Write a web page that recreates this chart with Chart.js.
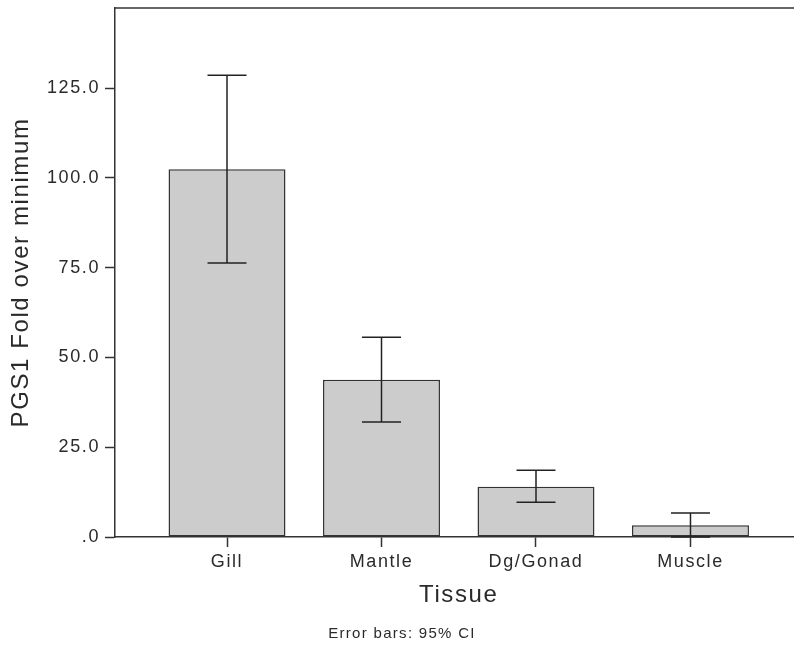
<!DOCTYPE html>
<html>
<head>
<meta charset="utf-8">
<script src="https://cdn.jsdelivr.net/npm/chart.js@4/dist/chart.umd.min.js"></script>
<style>
  html, body { margin: 0; padding: 0; background: #fff; overflow: hidden; }
  #wrap { width: 794px; height: 652px; overflow: hidden; }
  #box { width: 810px; height: 652px; }
</style>
</head>
<body>
<div id="wrap"><div id="box"><canvas id="myChart"></canvas></div></div>
<script>
document.addEventListener("DOMContentLoaded", function () {
  "use strict";
  // Data
  const tissues = ["Gill", "Mantle", "Dg/Gonad", "Muscle"];
  const foldMeans = [102.4, 43.8, 14.0, 3.3];
  const ciUpper = [128.6, 55.6, 18.6, 6.7];
  const ciLower = [76.3, 32.0, 9.7, 0.0];
  const yTicks = [0, 25, 50, 75, 100, 125];

  const ink = "#2a2a2a";
  const fontFamily = "'Liberation Sans', Arial, sans-serif";
  Chart.defaults.font.family = fontFamily;
  Chart.defaults.color = ink;

  // letter spacing like the original SPSS-style text
  const spacingPlugin = {
    id: "spacing",
    beforeDraw(chart) {
      chart.ctx.letterSpacing = "1.6px";
    },
  };

  // frame, 95% CI bars and footnote
  const extrasPlugin = {
    id: "extras",
    afterDatasetsDraw(chart) {
      const ctx = chart.ctx;
      const xs = chart.scales.x;
      const ys = chart.scales.y;
      const cap = 19.5;
      ctx.save();
      ctx.strokeStyle = "#222";
      ctx.lineWidth = 1.5;
      tissues.forEach((t, i) => {
        const x = xs.getPixelForValue(i);
        const top = ys.getPixelForValue(ciUpper[i]);
        const bot = ys.getPixelForValue(ciLower[i]);
        ctx.beginPath();
        ctx.moveTo(x, top);
        ctx.lineTo(x, bot);
        ctx.moveTo(x - cap, top);
        ctx.lineTo(x + cap, top);
        ctx.moveTo(x - cap, bot);
        ctx.lineTo(x + cap, bot);
        ctx.stroke();
      });
      ctx.restore();
    },
    afterDraw(chart) {
      const ctx = chart.ctx;
      const area = chart.chartArea;
      ctx.save();
      ctx.strokeStyle = "#333";
      ctx.lineWidth = 1.5;
      ctx.beginPath();
      ctx.moveTo(area.left, area.top);
      ctx.lineTo(area.right + 10, area.top);
      ctx.stroke();
      ctx.letterSpacing = "1.3px";
      ctx.fillStyle = ink;
      ctx.font = "15px " + fontFamily;
      ctx.textAlign = "center";
      ctx.textBaseline = "middle";
      ctx.fillText("Error bars: 95% CI", 402, 634);
      ctx.restore();
    },
  };

  const ctx = document.getElementById("myChart");
  new Chart(ctx, {
    type: "bar",
    data: {
      datasets: [
        {
          label: "PGS1 Fold over minimum",
          data: foldMeans.map((v, i) => ({ x: i, y: v })),
          backgroundColor: "#cccccc",
          borderColor: "#333333",
          borderWidth: 1.5,
          borderSkipped: false,
          categoryPercentage: 1,
          barPercentage: 0.757,
        },
      ],
    },
    options: {
      responsive: true,
      maintainAspectRatio: false,
      animation: false,
      layout: { padding: { top: 8, right: 7.5, left: 0, bottom: 0 } },
      plugins: {
        legend: { display: false },
        tooltip: { enabled: false },
      },
      scales: {
        x: {
          type: "linear",
          offset: false,
          min: -0.725,
          max: 3.725,
          afterBuildTicks(scale) {
            scale.ticks = tissues.map((t, i) => ({ value: i }));
          },
          afterFit(scale) {
            scale.height = 115;
            scale.paddingLeft = 0;
            scale.paddingRight = 0;
          },
          ticks: {
            callback: (v) => tissues[v],
            font: { size: 18 },
            color: ink,
            padding: 4,
            maxRotation: 0,
          },
          grid: {
            offset: false,
            drawOnChartArea: false,
            drawTicks: true,
            tickLength: 10,
            tickColor: "#333",
            tickWidth: 1.5,
          },
          border: { color: "#333", width: 1.5 },
          title: {
            display: true,
            text: "Tissue",
            font: { size: 24 },
            color: ink,
            padding: { top: 0, bottom: 42 },
          },
        },
        y: {
          min: 0,
          max: 147.3,
          afterBuildTicks(scale) {
            scale.ticks = yTicks.map((v) => ({ value: v }));
          },
          afterFit(scale) {
            scale.width = 115;
            scale.paddingTop = 0;
            scale.paddingBottom = 0;
          },
          ticks: {
            callback: (v) => (v === 0 ? ".0" : v.toFixed(1)),
            font: { size: 18 },
            color: ink,
            padding: 5,
          },
          grid: {
            drawOnChartArea: false,
            drawTicks: true,
            tickLength: 10,
            tickColor: "#333",
            tickWidth: 1.5,
          },
          border: { color: "#333", width: 1.5 },
          title: {
            display: true,
            text: "PGS1 Fold over minimum",
            font: { size: 24 },
            color: ink,
            padding: { top: 7, bottom: 0 },
          },
        },
      },
    },
    plugins: [spacingPlugin, extrasPlugin],
  });
});
</script>
</body>
</html>
